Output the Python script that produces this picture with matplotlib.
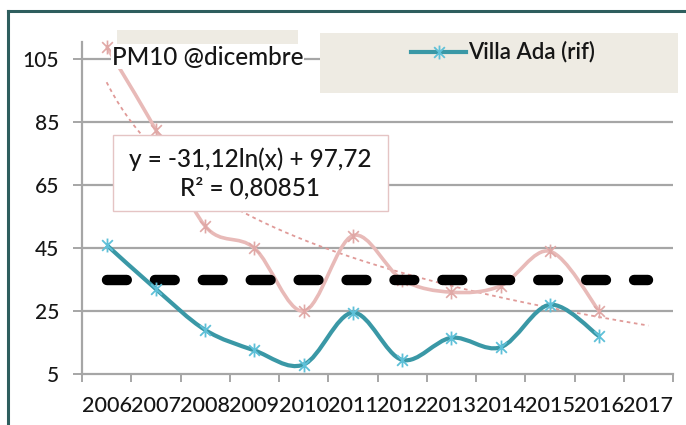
import numpy as np
import matplotlib
matplotlib.use("Agg")
import matplotlib.pyplot as plt
from matplotlib.path import Path
from matplotlib.patches import PathPatch, Rectangle
from matplotlib.lines import Line2D

# ---- data ----
years = ["2006", "2007", "2008", "2009", "2010", "2011", "2012", "2013",
         "2014", "2015", "2016", "2017"]
villa_ada = [46, 32, 19, 12.5, 8, 24.5, 9.5, 16.5, 13.5, 27, 17]
pm10_station = [109, 82.5, 52, 45, 25, 49, 35, 31, 33, 44, 25]
limit_value = [35] * 12
trend_a = -31.12
trend_b = 97.72
yticks = [5, 25, 45, 65, 85, 105]

W, H = 686, 425
fig = plt.figure(figsize=(W / 100, H / 100), dpi=100)
plt.rcParams['font.family'] = ['Lato', 'DejaVu Sans']


def fx(px):
    return px / W


def fy(py):
    return 1 - py / H


# outer frame
fig.add_artist(Line2D([fx(8), fx(8)], [fy(11), fy(430)], color="#2E5E5E", lw=2.2))
fig.add_artist(Line2D([fx(8), fx(690)], [fy(11), fy(11)], color="#2E5E5E", lw=2.2))

L, R, T, B = 82, 673, 42, 374
ax = fig.add_axes([fx(L), fy(B), fx(R) - fx(L), fy(T) - fy(B)])
ax.set_xlim(-0.5, 11.5)
ax.set_ylim(5, 110.5)
ax.patch.set_alpha(0)

grid_c = "#A6A6A6"
for v in yticks[1:]:
    ax.axhline(v, color=grid_c, lw=1.6, zorder=1)
for s in ["top", "right"]:
    ax.spines[s].set_visible(False)
for s in ["left", "bottom"]:
    ax.spines[s].set_color(grid_c)
    ax.spines[s].set_linewidth(1.6)

txt_c = "#161616"
ax.set_yticks(yticks)
ax.set_yticklabels([str(v) for v in yticks])
ax.tick_params(axis="y", length=6.5, width=1.4, color=grid_c, labelsize=15,
               labelcolor=txt_c, pad=10)
x = np.arange(len(years))
ax.set_xticks(x)
ax.set_xticklabels(years)
ax.set_xticks(np.arange(-0.5, 12, 1), minor=True)
ax.tick_params(axis="x", which="major", length=0, labelsize=15.5,
               labelcolor=txt_c, pad=16)
ax.tick_params(axis="x", which="minor", length=6, width=1.4, color=grid_c)
for lab in ax.get_xticklabels() + ax.get_yticklabels():
    lab.set_fontweight("medium")


def smooth_path(xs, ys):
    pts = np.column_stack([xs, ys]).astype(float)
    n = len(pts)
    verts = [pts[0]]
    codes = [Path.MOVETO]
    for i in range(n - 1):
        p0 = pts[i - 1] if i > 0 else pts[i]
        p1 = pts[i]
        p2 = pts[i + 1]
        p3 = pts[i + 2] if i + 2 < n else pts[i + 1]
        c1 = p1 + (p2 - p0) / 6.0
        c2 = p2 - (p3 - p1) / 6.0
        verts += [c1, c2, p2]
        codes += [Path.CURVE4] * 3
    return Path(verts, codes)


star = Path([(-1, -1), (1, 1), (-1, 1), (1, -1), (0, -1.3), (0, 1.3)],
            [Path.MOVETO, Path.LINETO, Path.MOVETO, Path.LINETO, Path.MOVETO, Path.LINETO])

# trendline (logarithmic)
xt = np.linspace(1, 12, 200)
ax.plot(xt - 1, trend_a * np.log(xt) + trend_b, color="#E09A98", lw=1.3,
        ls=(0, (2, 2)), zorder=2, clip_on=False)

# pink series
xp = x[:len(pm10_station)]
ax.add_patch(PathPatch(smooth_path(xp, pm10_station), fill=False,
                       edgecolor="#E8BAB8", lw=2.6, zorder=3, clip_on=False))
ax.plot(xp, pm10_station, ls="none", marker=star, ms=10, mew=1.2,
        mec="#E0A8A6", zorder=4, clip_on=False)

# limit line
ax.plot(x, limit_value, color="black", lw=7.5, ls=(0, (1.9, 2.7)),
        solid_capstyle="round", dash_capstyle="round", zorder=5)

# Villa Ada
xb = x[:len(villa_ada)]
ax.add_patch(PathPatch(smooth_path(xb, villa_ada), fill=False,
                       edgecolor="#3A98A6", lw=3.0, zorder=6, clip_on=False))
ax.plot(xb, villa_ada, ls="none", marker=star, ms=10, mew=1.3,
        mec="#5EC0D8", zorder=7, clip_on=False)

# title strip and title
fig.add_artist(Rectangle((fx(117), fy(44)), fx(298) - fx(117), fy(30) - fy(44),
                         transform=fig.transFigure, facecolor="#EEEBE3",
                         edgecolor="none", zorder=8))
fig.text(fx(112), fy(57), "PM10 @dicembre", fontsize=17.5, color=txt_c,
         va="center", ha="left", zorder=9, fontweight="medium",
         bbox=dict(facecolor="white", edgecolor="none", pad=0.5))

# legend box
fig.add_artist(Rectangle((fx(320), fy(93)), fx(678) - fx(320), fy(33) - fy(93),
                         transform=fig.transFigure, facecolor="#EEEBE3",
                         edgecolor="none", zorder=8))
fig.add_artist(Line2D([fx(411), fx(466)], [fy(52), fy(52)], color="#3A98A6",
                      lw=3.0, zorder=9))
fig.add_artist(Line2D([fx(438.5)], [fy(52)], ls="none", marker=star, ms=10,
                      mew=1.3, mec="#5EC0D8", zorder=10))
fig.text(fx(468), fy(52), "Villa Ada (rif)", fontsize=16, color=txt_c,
         va="center", ha="left", zorder=10, fontweight="semibold")

# equation box
fig.add_artist(Rectangle((fx(113), fy(211)), fx(388) - fx(113), fy(135) - fy(211),
                         transform=fig.transFigure, facecolor="white",
                         edgecolor="#E5C4C4", lw=1.0, zorder=8))
fig.text(fx(250), fy(159), "y = -31,12ln(x) + 97,72", fontsize=17.5,
         color=txt_c, ha="center", va="center", zorder=9, fontweight="medium")
fig.text(fx(250), fy(188), "R² = 0,80851", fontsize=17.5,
         color=txt_c, ha="center", va="center", zorder=9, fontweight="medium")

fig.savefig("out.png", dpi=100)
